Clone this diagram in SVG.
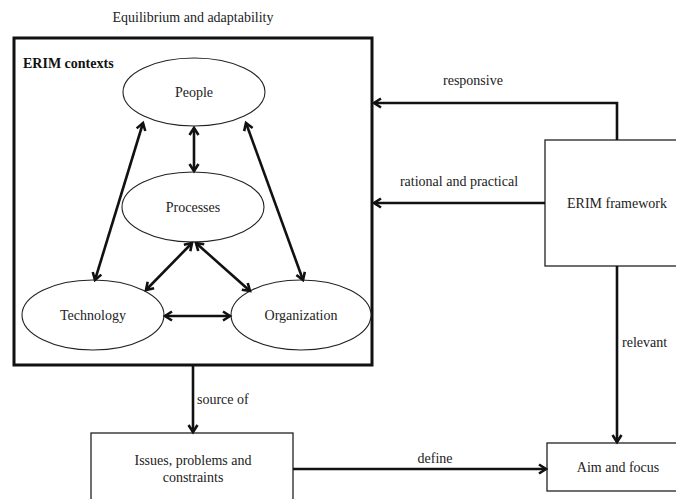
<svg xmlns="http://www.w3.org/2000/svg" width="676" height="499" viewBox="0 0 676 499">
<defs>
<style>
.t{font-family:'Liberation Serif','DejaVu Serif',serif;font-size:14px;fill:#222;}
.c{text-anchor:middle;}
.b{font-weight:bold;font-size:14px;fill:#111;}
.ell{fill:#fff;stroke:#222;stroke-width:1.1;}
.box{fill:#fff;stroke:#222;stroke-width:1.3;}
.outer{fill:none;stroke:#111;stroke-width:3;}
.con{fill:none;stroke:#111;stroke-width:2.6;}
</style>
<marker id="ah" markerUnits="userSpaceOnUse" markerWidth="14" markerHeight="14" refX="9" refY="6" orient="auto-start-reverse">
<path d="M2,1.5 L9,6 L2,10.5" fill="none" stroke="#111" stroke-width="2.6"/>
</marker>
</defs>
<rect width="676" height="499" fill="#fff"/>
<g class="t">
<text class="c" x="193" y="22">Equilibrium and adaptability</text>
<g id="erim-contexts">
<rect class="outer" x="14" y="38" width="358" height="327"/>
<text class="b" x="23" y="68">ERIM contexts</text>
</g>
<g id="people">
<ellipse class="ell" cx="194" cy="92" rx="71" ry="34"/>
<text class="c" x="194" y="97">People</text>
</g>
<g id="processes">
<ellipse class="ell" cx="193" cy="207" rx="71" ry="35"/>
<text class="c" x="193" y="212">Processes</text>
</g>
<g id="technology">
<ellipse class="ell" cx="93" cy="315" rx="71" ry="35"/>
<text class="c" x="93" y="320">Technology</text>
</g>
<g id="organization">
<ellipse class="ell" cx="301" cy="315" rx="70" ry="35"/>
<text class="c" x="301" y="320">Organization</text>
</g>
<g id="erim-framework">
<rect class="box" x="545" y="140" width="140" height="126"/>
<text class="c" x="617" y="208">ERIM framework</text>
</g>
<g id="issues">
<rect class="box" x="91" y="433" width="202" height="80"/>
<text class="c" x="193" y="465">Issues, problems and</text>
<text class="c" x="193" y="482">constraints</text>
</g>
<g id="aim">
<rect class="box" x="547" y="443" width="140" height="48"/>
<text class="c" x="618" y="472">Aim and focus</text>
</g>
<g id="connectors">
<line class="con" x1="194" y1="128" x2="194" y2="171" marker-start="url(#ah)" marker-end="url(#ah)"/>
<line class="con" x1="143" y1="123" x2="95" y2="280" marker-start="url(#ah)" marker-end="url(#ah)"/>
<line class="con" x1="246" y1="123" x2="303" y2="280" marker-start="url(#ah)" marker-end="url(#ah)"/>
<line class="con" x1="192" y1="243" x2="146" y2="290" marker-start="url(#ah)" marker-end="url(#ah)"/>
<line class="con" x1="196" y1="243" x2="250" y2="291" marker-start="url(#ah)" marker-end="url(#ah)"/>
<line class="con" x1="165" y1="316" x2="230" y2="316" marker-start="url(#ah)" marker-end="url(#ah)"/>
<polyline class="con" points="617,140 617,103 374,103" marker-end="url(#ah)"/>
<line class="con" x1="545" y1="203" x2="374" y2="203" marker-end="url(#ah)"/>
<line class="con" x1="617" y1="266" x2="617" y2="442" marker-end="url(#ah)"/>
<line class="con" x1="193" y1="366" x2="193" y2="432" marker-end="url(#ah)"/>
<line class="con" x1="293" y1="469" x2="546" y2="469" marker-end="url(#ah)"/>
<text x="473" y="85" class="c">responsive</text>
<text x="459" y="186" class="c">rational and practical</text>
<text x="622" y="347">relevant</text>
<text x="197" y="404">source of</text>
<text x="435" y="463" class="c">define</text>
</g>
</g>
</svg>
